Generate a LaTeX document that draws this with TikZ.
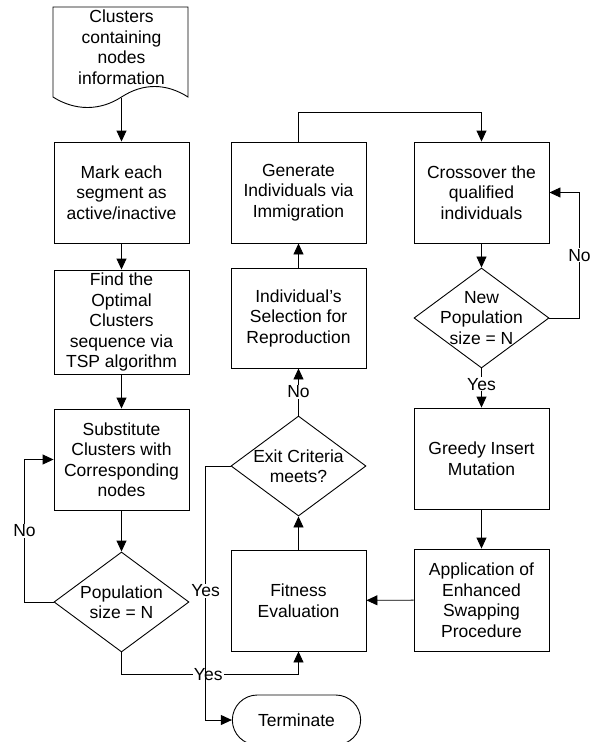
\documentclass[tikz,border=0pt]{standalone}
\usepackage{fontspec}
\setmainfont{Liberation Sans}
\usetikzlibrary{shapes.geometric}
\usetikzlibrary{shapes.misc}
\usetikzlibrary{arrows.meta}

\begin{document}
\begin{tikzpicture}[x=1pt,y=-1pt,line width=0.9pt,
		every node/.style={font=\fontsize{17.5}{20.5}\selectfont,align=center},
		process/.style={draw,rectangle,minimum width=135pt,minimum height=101pt,inner sep=1pt},
		decision/.style={draw,diamond,minimum width=135pt,minimum height=100pt,inner sep=0pt},
		dtext/.style={inner sep=0pt},
		stop/.style={draw,rounded rectangle,minimum width=135pt,minimum height=50pt},
		flow/.style={-{Triangle[length=11pt,width=10pt]}},
		lbl/.style={fill=white,inner sep=1pt}]
	\useasboundingbox (0,0) rectangle (596,742);
		% left column
		\draw (53,7) -- (188,7) -- (188,97) .. controls (166,83) and (143,83) .. (121.5,97)
			.. controls (100,111) and (75,111) .. (53,97) -- cycle;
		\node (clusters) at (121.5,47) {Clusters\\containing\\nodes\\information};
		\coordinate (docfoot) at (121.5,98);
		\node[process] (mark) at (121.5,192.5) {Mark each\\segment as\\active/inactive};
		\node[process,minimum height=104pt] (findtsp) at (121.5,322) {Find the\\Optimal\\Clusters\\sequence via\\TSP algorithm};
		\node[process] (substitute) at (121.5,459.5) {Substitute\\Clusters with\\Corresponding\\nodes};
		\node[decision,label={[dtext]center:{Population\\size = N}}] (popsize) at (121.5,602) {};
		% middle column
		\node[process] (immigrate) at (298.5,192.5) {Generate\\Individuals via\\Immigration};
		\node[process,minimum height=100pt] (selection) at (298.5,318) {Individual's\\Selection for\\Reproduction};
		\node[decision,label={[dtext]center:{Exit Criteria\\meets?}}] (exitcrit) at (298.5,466) {};
		\node[process] (fitness) at (298.5,600.5) {Fitness\\Evaluation};
		\node[stop] (terminate) at (296.5,720) {Terminate};
		% right column
		\node[process] (crossover) at (481.5,192.5) {Crossover the\\qualified\\individuals};
		\node[decision,label={[dtext]center:{New\\Population\\size = N}}] (newpop) at (481.5,318) {};
		\node[process] (mutation) at (481.5,458.5) {Greedy Insert\\Mutation};
		\node[process,minimum height=102pt] (swapping) at (481.5,600) {Application of\\Enhanced\\Swapping\\Procedure};

		\draw[flow] (docfoot) -- (mark);
		\draw[flow] (mark) -- (findtsp);
		\draw[flow] (findtsp) -- (substitute);
		\draw[flow] (substitute) -- (popsize);
		\draw[flow] (popsize.west) -- ++(-29,0) |- node[pos=0.25,lbl] {No} (substitute.west);
		\draw[flow] (popsize.south) -- ++(0,22) -| node[pos=0.245,lbl] {Yes} (fitness.south);
		\draw[flow] (fitness) -- (exitcrit);
		\draw[flow] (exitcrit.west) -- ++(-25,0) |- node[pos=0.246,lbl] {Yes} (terminate.west);
		\draw[flow] (exitcrit.north) -- node[lbl] {No} (selection.south);
		\draw[flow] (selection) -- (immigrate);
		\draw[flow] (immigrate.north) -- ++(0,-29) -| (crossover.north);
		\draw[flow] (crossover) -- (newpop);
		\draw[flow] (newpop.east) -- ++(30,0) |- node[pos=0.25,lbl] {No} (crossover.east);
		\draw[flow] (newpop.south) -- node[pos=0.4,lbl] {Yes} (mutation.north);
		\draw[flow] (mutation) -- (swapping);
		\draw[flow] (swapping) -- (fitness);
\end{tikzpicture}
\end{document}
